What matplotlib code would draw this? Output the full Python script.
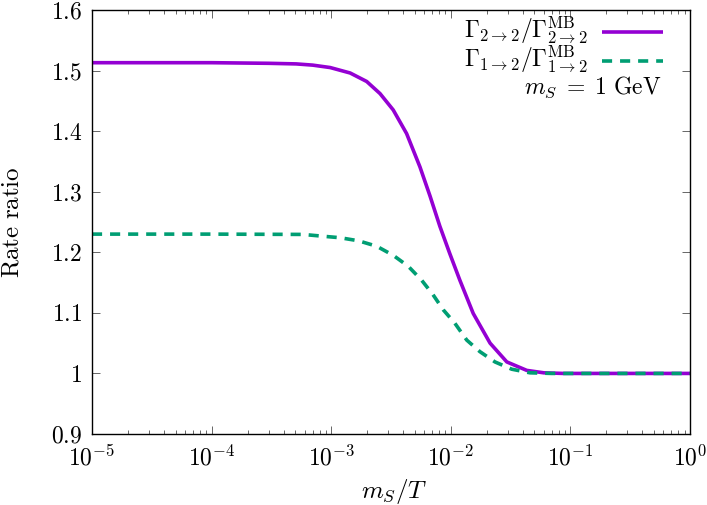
import matplotlib
matplotlib.use('Agg')
import matplotlib.pyplot as plt
from matplotlib.lines import Line2D
from matplotlib.ticker import LogLocator, FixedLocator, NullFormatter

plt.rcParams['mathtext.fontset'] = 'cm'
plt.rcParams['font.family'] = 'cmr10'
plt.rcParams['axes.unicode_minus'] = False

# datos
x_22 = [1e-5, 1e-4, 3e-4, 5.1e-4, 7e-4, 9.8e-4, 1.44e-3, 1.98e-3, 2.56e-3, 3.3e-3,
        4.27e-3, 5.52e-3, 6.7e-3, 8.1e-3, 9.8e-3, 0.0119, 0.0154, 0.0213, 0.0294,
        0.0432, 0.06, 0.087, 1.0]
y_22 = [1.513, 1.513, 1.512, 1.511, 1.509, 1.505, 1.496, 1.482, 1.462, 1.435,
        1.396, 1.341, 1.293, 1.243, 1.198, 1.154, 1.099, 1.050, 1.019,
        1.005, 1.001, 1.0, 1.0]

x_12 = [1e-5, 1e-4, 5.8e-4, 8e-4, 1.19e-3, 1.69e-3, 2.4e-3, 3.3e-3, 4.4e-3, 5.7e-3,
        7.1e-3, 8.65e-3, 0.0108, 0.0136, 0.0175, 0.0234, 0.0323, 0.046, 0.07, 1.0]
y_12 = [1.23, 1.23, 1.2295, 1.227, 1.224, 1.219, 1.210, 1.195, 1.177, 1.154,
        1.130, 1.105, 1.083, 1.055, 1.036, 1.019, 1.007, 1.001, 1.0, 1.0]

y_ticks = [0.9, 1.0, 1.1, 1.2, 1.3, 1.4, 1.5, 1.6]
y_tick_labels = ['0.9', '1', '1.1', '1.2', '1.3', '1.4', '1.5', '1.6']
x_ticks = [1e-5, 1e-4, 1e-3, 1e-2, 1e-1, 1e0]
x_tick_labels = [r'$10^{-5}$', r'$10^{-4}$', r'$10^{-3}$', r'$10^{-2}$', r'$10^{-1}$', r'$10^{0}$']

label_22 = r'$\Gamma_{2{\to}2}/\Gamma^{\mathrm{MB}}_{2{\to}2}$'
label_12 = r'$\Gamma_{1{\to}2}/\Gamma^{\mathrm{MB}}_{1{\to}2}$'
label_ms = r'$m_S\;=\;1\ \mathrm{GeV}$'

purple = '#9400D3'
green = '#009E73'
dash = (0, (2.8, 2.2))
W, H = 707, 505

fig = plt.figure(figsize=(W / 100, H / 100), dpi=100)
ax = fig.add_axes([92 / W, 1 - 434 / H, 598 / W, 424 / H])

ax.plot(x_22, y_22, color=purple, lw=2.6, solid_capstyle='butt')
ax.plot(x_12, y_12, color=green, lw=2.6, ls=dash)

ax.set_xscale('log')
ax.set_xlim(1e-5, 1)
ax.set_ylim(0.9, 1.6)

ax.xaxis.set_major_locator(FixedLocator(x_ticks))
ax.set_xticklabels(x_tick_labels)
ax.xaxis.set_minor_locator(LogLocator(base=10, subs=range(2, 10), numticks=20))
ax.xaxis.set_minor_formatter(NullFormatter())
ax.set_yticks(y_ticks)
ax.set_yticklabels([r'$' + s + '$' for s in y_tick_labels])

ax.tick_params(which='both', direction='in', top=True, right=True, labelsize=17)
ax.tick_params(axis='x', pad=8)
ax.tick_params(axis='y', pad=7)
ax.tick_params(which='major', length=5.5, width=0.7, color='0.4')
ax.tick_params(which='minor', length=2.8, width=0.7, color='0.4')
for s in ax.spines.values():
    s.set_linewidth(1.0)

# etiquetas de ejes centradas en la posicion de la referencia
ax.set_xlabel(r'$m_S/T$', fontsize=18, va='center')
ax.xaxis.set_label_coords((394 - 92) / 598, -(492 - 434) / 424)
ax.set_ylabel(r'$\mathrm{Rate\ ratio}$', fontsize=18, va='center')
ax.yaxis.set_label_coords(-(92 - 12) / 598, 0.5)

# leyenda a mano (texto alineado a la derecha, muestra a la derecha)
def fx(px):
    return px / W

def fy(py):
    return 1 - py / H

fig.text(fx(588), fy(37), label_22, fontsize=17, ha='right', va='baseline')
fig.add_artist(Line2D([fx(602), fx(663)], [fy(32), fy(32)], color=purple, lw=2.6,
                      transform=fig.transFigure, solid_capstyle='butt'))
fig.text(fx(588), fy(66), label_12, fontsize=17, ha='right', va='baseline')
fig.add_artist(Line2D([fx(602), fx(663)], [fy(61), fy(61)], color=green, lw=2.6, ls=dash,
                      transform=fig.transFigure))
fig.text(fx(661), fy(94), label_ms, fontsize=17, ha='right', va='baseline')

fig.savefig('out.png', dpi=100)
